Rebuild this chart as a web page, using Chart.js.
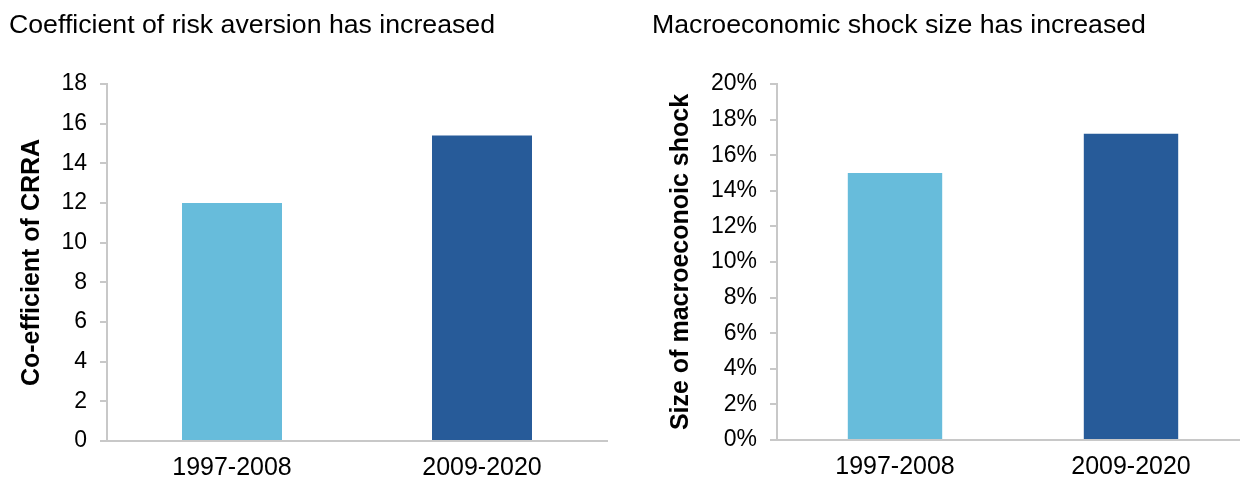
<!DOCTYPE html>
<html>
<head>
<meta charset="utf-8">
<script src="https://cdn.jsdelivr.net/npm/chart.js@4.4.1/dist/chart.umd.min.js"></script>
<style>
html,body{margin:0;padding:0;background:#fff;overflow:hidden;width:1240px;height:479px;}
.box{position:absolute;top:0;height:479px;}
#b1{left:0;width:620px;}
#b2{left:620px;width:640px;}
.ttl{position:absolute;top:11px;font-family:'Liberation Sans',Arial,sans-serif;font-size:26.7px;line-height:26px;color:#000;white-space:nowrap;}
#t1{left:9px;}
#t2{left:652px;}
</style>
</head>
<body>
<div class="box" id="b1"><canvas id="c1"></canvas></div>
<div class="box" id="b2"><canvas id="c2"></canvas></div>
<div class="ttl" id="t1"></div>
<div class="ttl" id="t2"></div>
<script>
const categories = ["1997-2008", "2009-2020"];
const crraValues = [12.0, 15.4];
const shockValues = [15.0, 17.2];
const crraTicks = [0, 2, 4, 6, 8, 10, 12, 14, 16, 18];
const shockTicks = [0, 2, 4, 6, 8, 10, 12, 14, 16, 18, 20];
const barColors = ["#67BCDB", "#275B99"];
const titles = ["Coefficient of risk aversion has increased", "Macroeconomic shock size has increased"];
const axisTitles = ["Co-efficient of CRRA", "Size of macroeconoic shock"];

document.getElementById('t1').textContent = titles[0];
document.getElementById('t2').textContent = titles[1];

const FONT = "'Liberation Sans', Arial, sans-serif";
Chart.defaults.font.family = FONT;
Chart.defaults.color = "#000";

function makeChart(id, values, ticks, yTitle, fmt, opts) {
  return new Chart(document.getElementById(id), {
    type: 'bar',
    data: {
      labels: categories,
      datasets: [{
        data: values,
        backgroundColor: barColors,
        borderWidth: 0,
        barPercentage: 0.4,
        categoryPercentage: 1.0
      }]
    },
    options: {
      responsive: true,
      maintainAspectRatio: false,
      animation: false,
      layout: { padding: { top: 84, right: opts.padRight, bottom: 0, left: 0 } },
      plugins: {
        legend: { display: false },
        tooltip: { enabled: false },
        title: { display: false }
      },
      scales: {
        x: {
          grid: { display: false, drawTicks: false },
          border: { color: '#c8c8c8', width: 2 },
          ticks: { font: { size: 25 }, color: '#000', padding: 12, maxRotation: 0 },
          afterFit: s => { s.height = opts.xh; }
        },
        y: {
          min: ticks[0],
          max: ticks[ticks.length - 1],
          afterBuildTicks: s => { s.ticks = ticks.map(v => ({ value: v })); },
          grid: { display: true, drawOnChartArea: false, drawTicks: true, tickLength: 7, color: '#c8c8c8', lineWidth: 2 },
          border: { color: '#c8c8c8', width: 2 },
          ticks: { font: { size: 23 }, color: '#000', padding: 13, callback: fmt },
          title: { display: true, text: yTitle, font: { size: 25, weight: 'bold' }, color: '#000', padding: { top: opts.titleGap, bottom: 0 } },
          afterFit: s => { s.width = opts.yw; }
        }
      }
    }
  });
}

makeChart('c1', crraValues, crraTicks, axisTitles[0], v => String(v),
  { padRight: 13, xh: 38, yw: 107, titleGap: 17 });
makeChart('c2', shockValues, shockTicks, axisTitles[1], v => v + '%',
  { padRight: 11, xh: 39, yw: 157, titleGap: 46 });
</script>
</body>
</html>
